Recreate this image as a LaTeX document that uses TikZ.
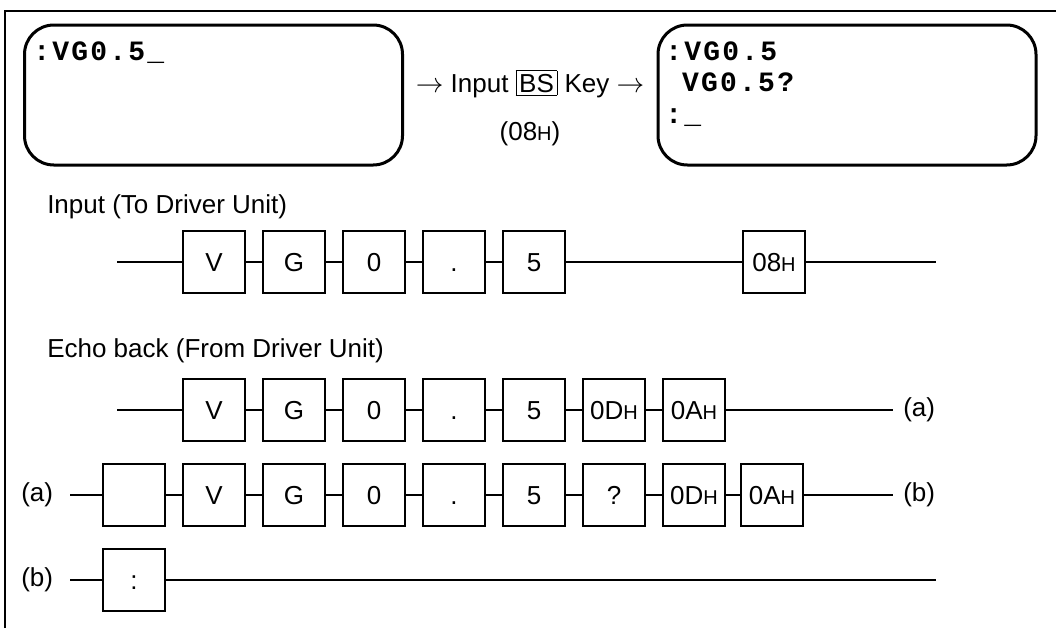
\documentclass[tikz,border=0pt]{standalone}
\usepackage{fontspec}
\setmainfont{Liberation Sans}
\newfontfamily\scrfont[LetterSpace=8]{Liberation Mono}
\newcommand{\hx}{{\fontsize{15}{17}\selectfont H}}
\setlength{\fboxsep}{2pt}
\setlength{\fboxrule}{0.6pt}
\tikzset{
  cell/.style={draw, line width=1.5pt, minimum width=46.5pt, minimum height=46.5pt,
    inner sep=0pt, text height=14pt, text depth=0pt},
  screen/.style={draw, line width=2.25pt, rounded corners=22pt,
    minimum width=283.5pt, minimum height=105pt},
  scrtext/.style={anchor=base west, inner sep=0pt,
    font=\fontsize{21}{24}\selectfont\scrfont\bfseries},
  lbl/.style={anchor=base west, inner sep=0pt},
  wire/.style={line width=1.5pt},
}
\begin{document}
\begin{tikzpicture}[x=0.75pt, y=-0.75pt, font=\fontsize{19.5}{23}\selectfont]
\useasboundingbox (0,0) rectangle (1056,628);
% frame, screens before and after the BS key
\draw[line width=1.5pt] (5,628) -- (5,11) -- (1056,11);
\node[screen] (before) at (213.5,95) {};
\node[screen] (after) at (847,95) {};
\node[scrtext] (scr1) at (33,60) {:VG0.5\char95};
\node[scrtext] (scr2) at (665,60) {:VG0.5};
\node[scrtext] (scr3) at (665,91) {\phantom{:}VG0.5?};
\node[scrtext] (scr4) at (665,123) {:\char95};
\node[anchor=base, inner sep=0pt] (key) at (530,92) {$\rightarrow$ Input \fbox{BS} Key $\rightarrow$};
\node[anchor=base, inner sep=0pt] (code) at (530,140) {(08\hx)};
% input to the driver unit
\node[lbl] (inlbl) at (47,213) {Input (To Driver Unit)};
\coordinate (in0) at (117,262);
\foreach \i/\c in {1/V,2/G,3/0,4/.,5/5}
  \node[cell] (in\i) at ({134+80*\i},262) {\c};
\node[cell] (in6) at (774,262) {08\hx};
\coordinate (in7) at (936,262);
\foreach \n [remember=\n as \p (initially 0)] in {1,...,7}
  \draw[wire] (in\p) -- (in\n);
% echo back from the driver unit
\node[lbl] (echolbl) at (47,357) {Echo back (From Driver Unit)};
\coordinate (ec0) at (117,410);
\foreach \i/\c in {1/V,2/G,3/0,4/.,5/5}
  \node[cell] (ec\i) at ({134+80*\i},410) {\c};
\node[cell] (ec6) at (614,410) {0D\hx};
\node[cell] (ec7) at (694,410) {0A\hx};
\coordinate (ec8) at (893,410);
\node[anchor=west, inner sep=0pt] (ra) at (903,410) {(a)};
\foreach \n [remember=\n as \p (initially 0)] in {1,...,8}
  \draw[wire] (ec\p) -- (ec\n);
% line (a)
\node[anchor=west, inner sep=0pt] (la) at (21,495) {(a)};
\coordinate (ra0) at (70,495);
\node[cell] (ra1) at (134,495) {};
\foreach \i/\c in {2/V,3/G,4/0,5/.,6/5}
  \node[cell] (ra\i) at ({54+80*\i},495) {\c};
\node[cell] (ra7) at (614,495) {?};
\node[cell] (ra8) at (694,495) {0D\hx};
\node[cell] (ra9) at (772,495) {0A\hx};
\coordinate (ra10) at (893,495);
\node[anchor=west, inner sep=0pt] (rb) at (903,495) {(b)};
\foreach \n [remember=\n as \p (initially 0)] in {1,...,10}
  \draw[wire] (ra\p) -- (ra\n);
% line (b)
\node[anchor=west, inner sep=0pt] (lb) at (21,580) {(b)};
\coordinate (rb0) at (70,580);
\node[cell] (rb1) at (134,580) {:};
\coordinate (rb2) at (936,580);
\draw[wire] (rb0) -- (rb1) -- (rb2);
\end{tikzpicture}
\end{document}
